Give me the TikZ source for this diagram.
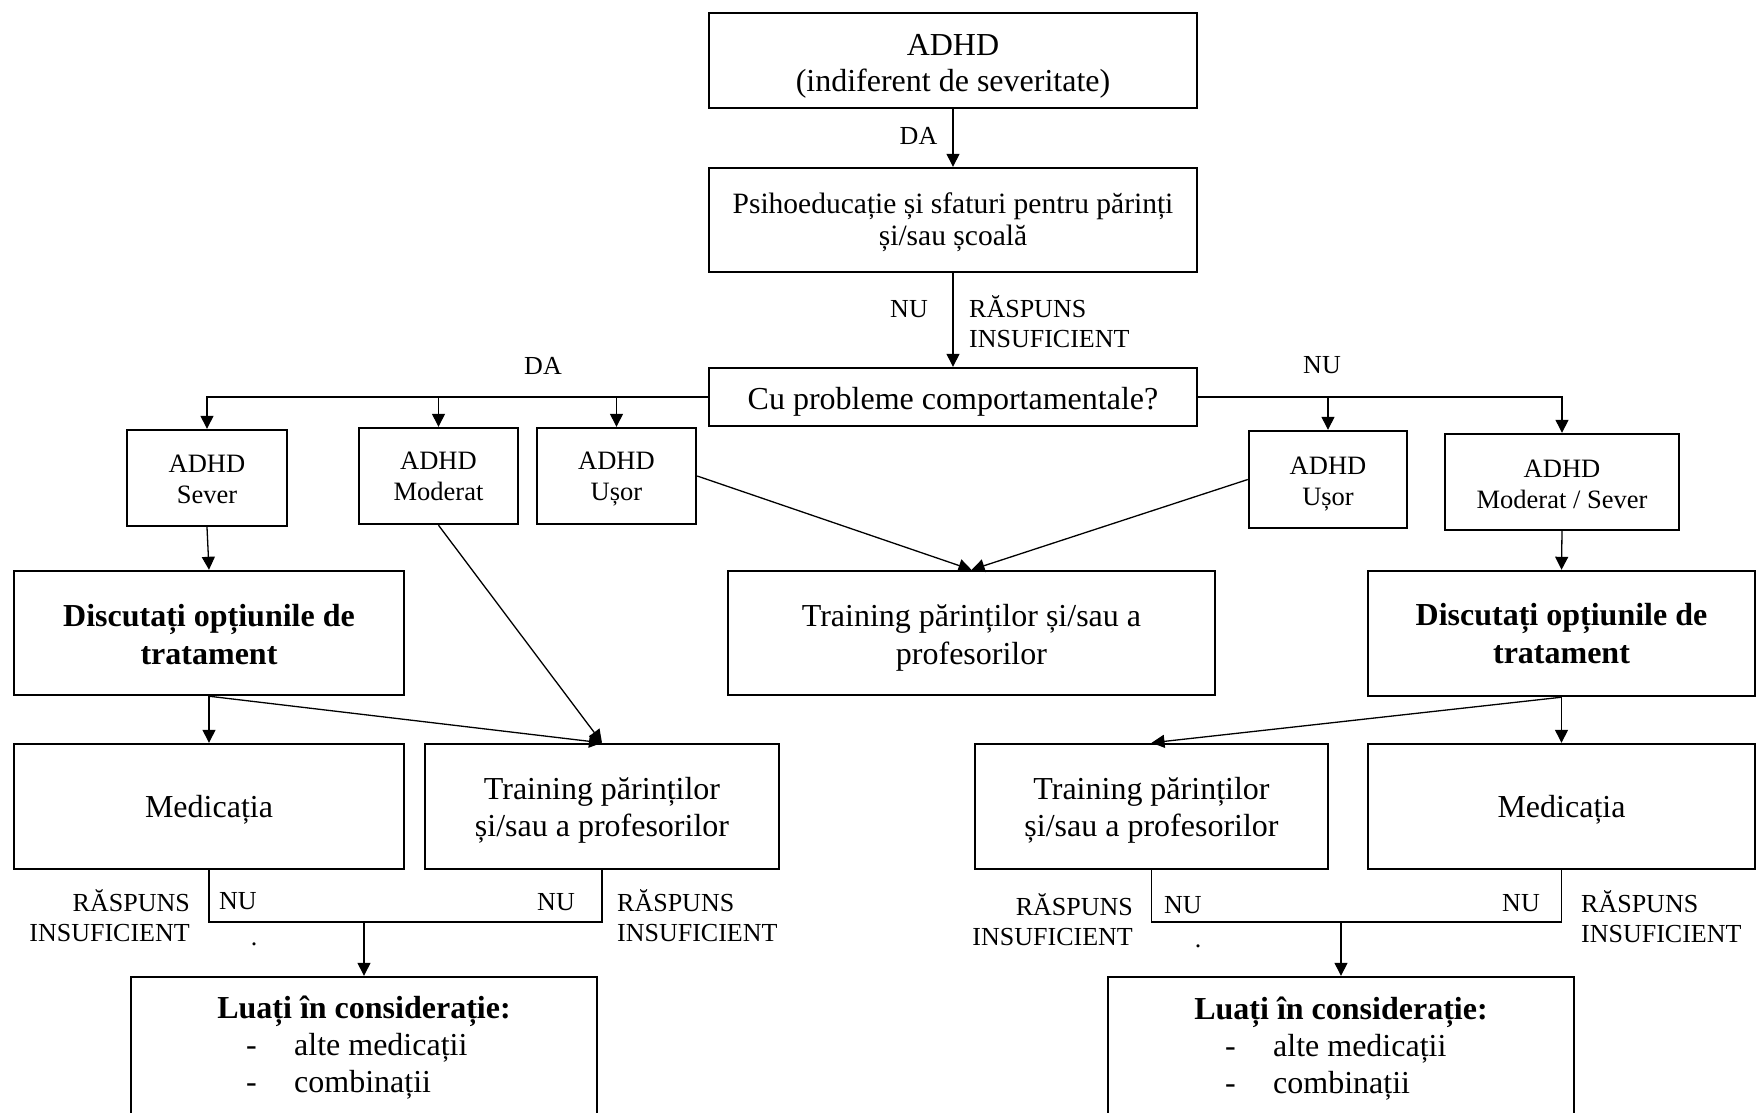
\documentclass[tikz,border=0pt]{standalone}
\usepackage{fontspec}
\setmainfont{Liberation Serif}
\usetikzlibrary{arrows.meta}
\newcommand\mvtext[2]{\raisebox{-#1pt}[\height][\depth]{\begin{tabular}{@{}c@{}}#2\end{tabular}}}
\begin{document}
\begin{tikzpicture}[x=1pt,y=-1pt,
  box/.style={draw, line width=2.4pt, inner sep=0pt, align=center,
    font=\fontsize{32}{36}\selectfont},
  sbox/.style={draw, line width=2.4pt, inner sep=0pt, align=center,
    font=\fontsize{26.5}{31}\selectfont},
  bbox/.style={box, font=\fontsize{32}{38}\selectfont\bfseries},
  lbl/.style={inner sep=0pt, font=\fontsize{26}{30}\selectfont},
  txt/.style={inner sep=0pt, font=\fontsize{32}{36}\selectfont},
  arr/.style={line width=1.3pt, -{Triangle[length=13pt,width=13pt]}},
  ln/.style={line width=1.3pt}]
\useasboundingbox (0,0) rectangle (1757,1112);
\clip (0,0) rectangle (1757,1112);
\fill[white] (0,0) rectangle (1757,1112);

% top
\node[box, minimum width=488pt, minimum height=95pt] (top) at (953,60.5) {\mvtext{6}{ADHD\\(indiferent de severitate)}};
\node[box, minimum width=488pt, minimum height=104pt, font=\fontsize{29.5}{32}\selectfont] (psi) at (953,220) {\mvtext{3.5}{Psihoeducație și sfaturi pentru părinți\\și/sau școală}};
\node[box, minimum width=488pt, minimum height=58pt] (cu) at (953,397) {\mvtext{5.5}{Cu probleme comportamentale?}};

% row 2
\node[sbox, minimum width=160pt, minimum height=96pt] (sevL) at (207,478) {\mvtext{4}{ADHD\\Sever}};
\node[sbox, minimum width=159pt, minimum height=96pt] (modL) at (438.5,476) {\mvtext{3}{ADHD\\Moderat}};
\node[sbox, minimum width=159pt, minimum height=96pt] (usL) at (616.5,476) {\mvtext{3}{ADHD\\Ușor}};
\node[sbox, minimum width=158pt, minimum height=97pt] (usR) at (1328,479.5) {\mvtext{4}{ADHD\\Ușor}};
\node[sbox, minimum width=234pt, minimum height=96pt] (msR) at (1562,482) {\mvtext{4.5}{ADHD\\Moderat / Sever}};

% row 3
\node[bbox, minimum width=390pt, minimum height=124pt] (discL) at (209,633) {\mvtext{4.5}{Discutați opțiunile de\\tratament}};
\node[box, minimum width=487pt, minimum height=124pt, font=\fontsize{32}{38}\selectfont] (trC) at (971.5,633) {\mvtext{4.5}{Training părinților și/sau a\\profesorilor}};
\node[bbox, minimum width=387pt, minimum height=125pt] (discR) at (1561.5,633.5) {\mvtext{3.5}{Discutați opțiunile de\\tratament}};

% row 4
\node[box, minimum width=390pt, minimum height=125pt] (medL) at (209,806.5) {\mvtext{3.5}{Medicația}};
\node[box, minimum width=354pt, minimum height=125pt, font=\fontsize{32}{37}\selectfont] (trL) at (602,806.5) {\mvtext{4}{Training părinților\\și/sau a profesorilor}};
\node[box, minimum width=353pt, minimum height=125pt, font=\fontsize{32}{37}\selectfont] (trR) at (1151.5,806.5) {\mvtext{4}{Training părinților\\și/sau a profesorilor}};
\node[box, minimum width=387pt, minimum height=125pt] (medR) at (1561.5,806.5) {\mvtext{3.5}{Medicația}};

% bottom boxes
\node[box, minimum width=466pt, minimum height=163pt] (luL) at (364,1058.5) {};
\node[box, minimum width=466pt, minimum height=163pt] (luR) at (1341,1058.5) {};
\node[txt, anchor=base, font=\fontsize{32}{36}\selectfont\bfseries] (luLt) at (364,1018) {Luați în considerație:};
\node[txt, anchor=base west] (luL1) at (246,1055) {\makebox[48pt][l]{-}alte medicații};
\node[txt, anchor=base west] (luL2) at (246,1092) {\makebox[48pt][l]{-}combinații};
\node[txt, anchor=base, font=\fontsize{32}{36}\selectfont\bfseries] (luRt) at (1341,1019) {Luați în considerație:};
\node[txt, anchor=base west] (luR1) at (1225,1056) {\makebox[48pt][l]{-}alte medicații};
\node[txt, anchor=base west] (luR2) at (1225,1093) {\makebox[48pt][l]{-}combinații};

% connectors top
\draw[arr] (top.south) -- (psi.north);
\draw[arr] (psi.south) -- (cu.north);
\node[lbl] (da1) at (918.5,136) {DA};
\node[lbl] (nu1) at (909,309.5) {NU};
\node[lbl, anchor=west, align=left] (ri1) at (969,322) {RĂSPUNS\\INSUFICIENT};

% branches
\draw[arr] (cu.west) -| (sevL.north);
\draw[arr] (cu.west) -| (modL.north);
\draw[arr] (cu.west) -| (usL.north);
\draw[arr] (cu.east) -| (usR.north);
\draw[arr] (cu.east) -| (msR.north);
\node[lbl] (da2) at (543,366) {DA};
\node[lbl] (nu2) at (1322,365) {NU};

% to row 3
\draw[arr] (sevL.south) -- (discL.north);
\draw[arr] (usL.east) -- (trC.north);
\draw[arr] (usR.west) -- (trC.north);
\draw[arr] (msR.south) -- (discR.north);

% to row 4
\draw[arr] (discL.south) -- (medL.north);
\draw[arr] (discL.south) -- (trL.north);
\draw[arr] (modL.south) -- (trL.north);
\draw[arr] (discR.south) -- (medR.north);
\draw[arr] (discR.south) -- (trR.north);

% brackets left
\coordinate (jL) at (363,922);
\draw[ln] (medL.south) |- (jL) -| (trL.south);
\draw[arr] (luL.north |- jL) -- (luL.north);
\node[lbl, anchor=east, align=right] (riL1) at (190,916) {RĂSPUNS\\INSUFICIENT};
\node[lbl, anchor=west] (nuL1) at (219,901) {NU};
\node[lbl, anchor=base] (dotL) at (254,945) {.};
\node[lbl] (nuL2) at (556,902) {NU};
\node[lbl, anchor=west, align=left] (riL2) at (617,916) {RĂSPUNS\\INSUFICIENT};

% brackets right
\coordinate (jR) at (1341,922);
\draw[ln] (trR.south) |- (jR) -| (medR.south);
\draw[arr] (luR.north |- jR) -- (luR.north);
\node[lbl, anchor=east, align=right] (riR1) at (1133,919.5) {RĂSPUNS\\INSUFICIENT};
\node[lbl, anchor=west] (nuR1) at (1164,905) {NU};
\node[lbl, anchor=base] (dotR) at (1198,947) {.};
\node[lbl] (nuR2) at (1521,903) {NU};
\node[lbl, anchor=west, align=left] (riR2) at (1581,917) {RĂSPUNS\\INSUFICIENT};
\end{tikzpicture}
\end{document}
